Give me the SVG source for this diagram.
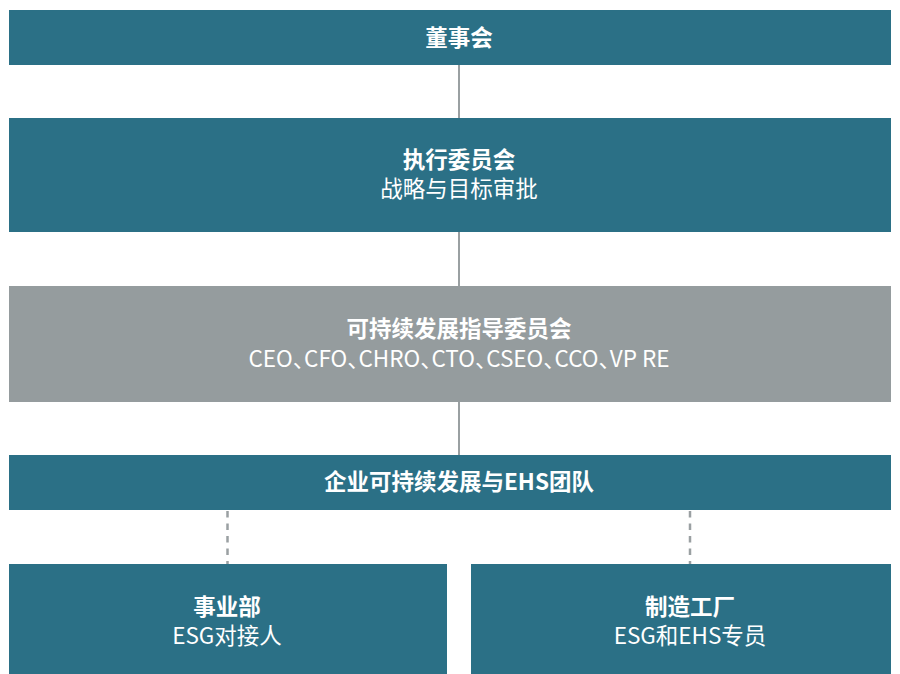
<svg xmlns="http://www.w3.org/2000/svg" width="900" height="674" viewBox="0 0 900 674">
<style>
.box{fill:#2b7086}
.grey{fill:#959c9e}
.t{font-family:"Noto Sans CJK SC","Noto Sans",sans-serif;font-size:22.5px;fill:#ffffff;text-anchor:middle}
.b{font-weight:bold}
.halt{font-feature-settings:"halt"}
.solid{stroke:#9aa0a2;stroke-width:2;fill:none}
.dash{stroke:#9aa0a2;stroke-width:2.5;fill:none;stroke-dasharray:6.5 6}
</style>
<rect width="900" height="674" fill="#ffffff"/>
<g id="connectors">
<line class="solid" x1="459" y1="65" x2="459" y2="118"/>
<line class="solid" x1="459" y1="232" x2="459" y2="286"/>
<line class="solid" x1="459" y1="402" x2="459" y2="455"/>
<line class="dash" x1="227.5" y1="511" x2="227.5" y2="564"/>
<line class="dash" x1="690" y1="511" x2="690" y2="564"/>
</g>
<g id="board">
<rect class="box" x="9" y="10" width="882" height="55"/>
<text class="t b" x="459" y="46">董事会</text>
</g>
<g id="exec">
<rect class="box" x="9" y="118" width="882" height="114"/>
<text class="t b" x="459" y="168">执行委员会</text>
<text class="t" x="459" y="197">战略与目标审批</text>
</g>
<g id="steering">
<rect class="grey" x="9" y="286" width="882" height="116"/>
<text class="t b" x="459" y="337">可持续发展指导委员会</text>
<text class="t halt" x="459" y="367">CEO、CFO、CHRO、CTO、CSEO、CCO、VP RE</text>
</g>
<g id="ehs">
<rect class="box" x="9" y="455" width="882" height="55"/>
<text class="t b" x="459" y="490">企业可持续发展与EHS团队</text>
</g>
<g id="bu">
<rect class="box" x="9" y="564" width="438" height="110"/>
<text class="t b" x="227" y="615">事业部</text>
<text class="t" x="227" y="644">ESG对接人</text>
</g>
<g id="plant">
<rect class="box" x="471" y="564" width="420" height="110"/>
<text class="t b" x="690" y="615">制造工厂</text>
<text class="t" x="690" y="644">ESG和EHS专员</text>
</g>
</svg>
